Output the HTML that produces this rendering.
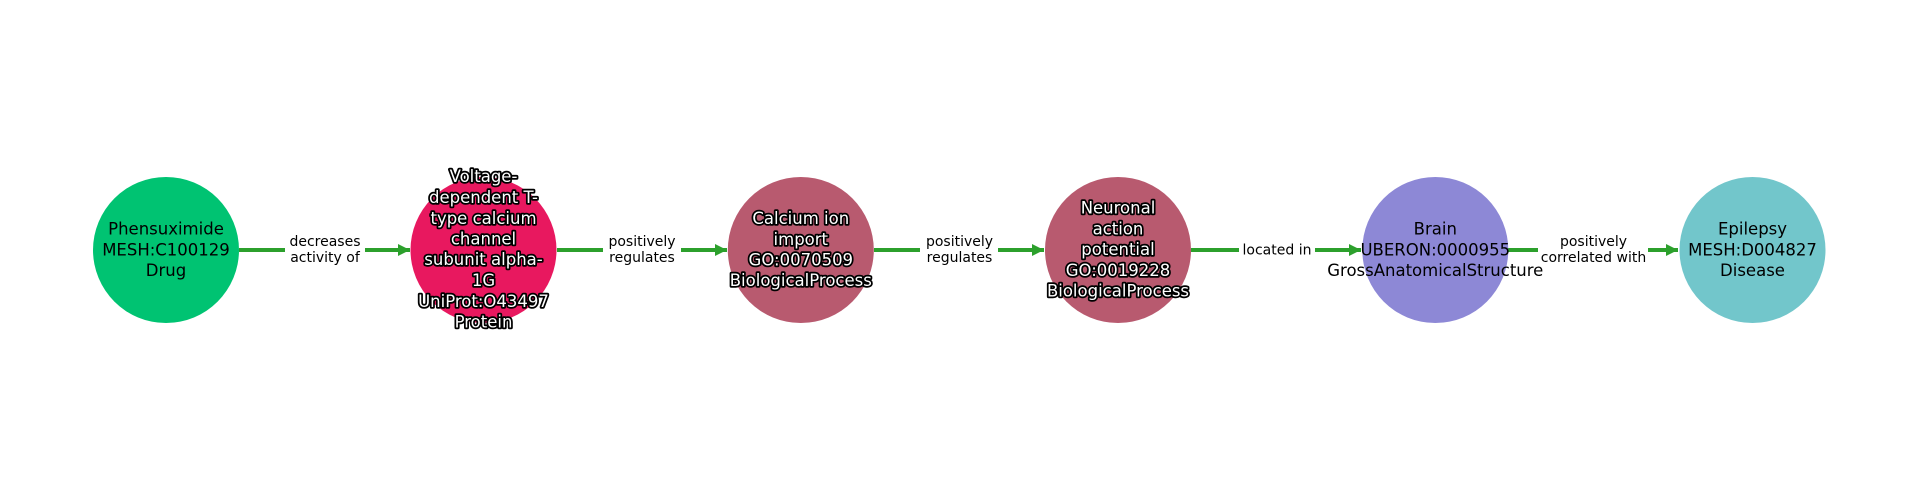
<!DOCTYPE html>
<html><head><meta charset="utf-8"><style>
html,body{margin:0;padding:0;background:#fff;width:1920px;height:500px;overflow:hidden}
svg{display:block}
.n{font-family:"DejaVu Sans","Liberation Sans",sans-serif;font-size:16.5px;text-anchor:middle;fill:#000}
.w{fill:#fff;stroke:#000;stroke-width:3.5px;paint-order:stroke;stroke-linejoin:round}
.e{font-family:"DejaVu Sans","Liberation Sans",sans-serif;font-size:14px;text-anchor:middle;fill:#000}
</style></head><body>
<svg width="1920" height="500" viewBox="0 0 1920 500" xmlns="http://www.w3.org/2000/svg">
<defs><marker id="a" viewBox="0 0 10 10" refX="10" refY="5" markerWidth="3" markerHeight="3" orient="auto"><path d="M0,0 L10,5 L0,10 z" fill="#2ca02c"/></marker></defs>
<g stroke="#2ca02c" stroke-width="4" fill="none">
<line x1="239" y1="250" x2="410" y2="250" marker-end="url(#a)"/>
<line x1="557" y1="250" x2="727" y2="250" marker-end="url(#a)"/>
<line x1="874" y1="250" x2="1044" y2="250" marker-end="url(#a)"/>
<line x1="1191" y1="250" x2="1361" y2="250" marker-end="url(#a)"/>
<line x1="1508" y1="250" x2="1678" y2="250" marker-end="url(#a)"/>
</g>
<g fill="#fff">
<rect x="285" y="230" width="80" height="40"/>
<rect x="603" y="230" width="78" height="40"/>
<rect x="920" y="230" width="78" height="40"/>
<rect x="1239" y="240" width="76" height="20"/>
<rect x="1538" y="230" width="110" height="40"/>
</g>
<circle cx="166" cy="250" r="73" fill="#00c372"/>
<circle cx="483.5" cy="250" r="73" fill="#e8185f"/>
<circle cx="800.8" cy="250" r="73" fill="#b85a6f"/>
<circle cx="1118" cy="250" r="73" fill="#b85a6f"/>
<circle cx="1435.3" cy="250" r="73" fill="#8d88d6"/>
<circle cx="1752.5" cy="250" r="73" fill="#72c6cb"/>
<text class="e" x="325" y="246">decreases</text><text class="e" x="325" y="262">activity of</text>
<text class="e" x="642" y="246">positively</text><text class="e" x="642" y="262">regulates</text>
<text class="e" x="959.5" y="246">positively</text><text class="e" x="959.5" y="262">regulates</text>
<text class="e" x="1277" y="254.5">located in</text>
<text class="e" x="1593.5" y="246">positively</text><text class="e" x="1593.5" y="262">correlated with</text>
<g class="n">
<text x="166" y="234.5">Phensuximide</text><text x="166" y="255.5">MESH:C100129</text><text x="166" y="276">Drug</text>
</g>
<g class="n w">
<text x="483.5" y="182">Voltage-</text><text x="483.5" y="203">dependent T-</text><text x="483.5" y="224">type calcium</text><text x="483.5" y="244.5">channel</text><text x="483.5" y="265">subunit alpha-</text><text x="483.5" y="286">1G</text><text x="483.5" y="307">UniProt:O43497</text><text x="483.5" y="327.5">Protein</text>
<text x="800.8" y="224">Calcium ion</text><text x="800.8" y="245">import</text><text x="800.8" y="265.5">GO:0070509</text><text x="800.8" y="286">BiologicalProcess</text>
<text x="1118" y="213.5">Neuronal</text><text x="1118" y="234.5">action</text><text x="1118" y="255">potential</text><text x="1118" y="276">GO:0019228</text><text x="1118" y="296.5">BiologicalProcess</text>
</g>
<g class="n">
<text x="1435.3" y="234.5">Brain</text><text x="1435.3" y="255.5">UBERON:0000955</text><text x="1435.3" y="276">GrossAnatomicalStructure</text>
<text x="1752.5" y="234.5">Epilepsy</text><text x="1752.5" y="255.5">MESH:D004827</text><text x="1752.5" y="276">Disease</text>
</g>
</svg>
</body></html>
